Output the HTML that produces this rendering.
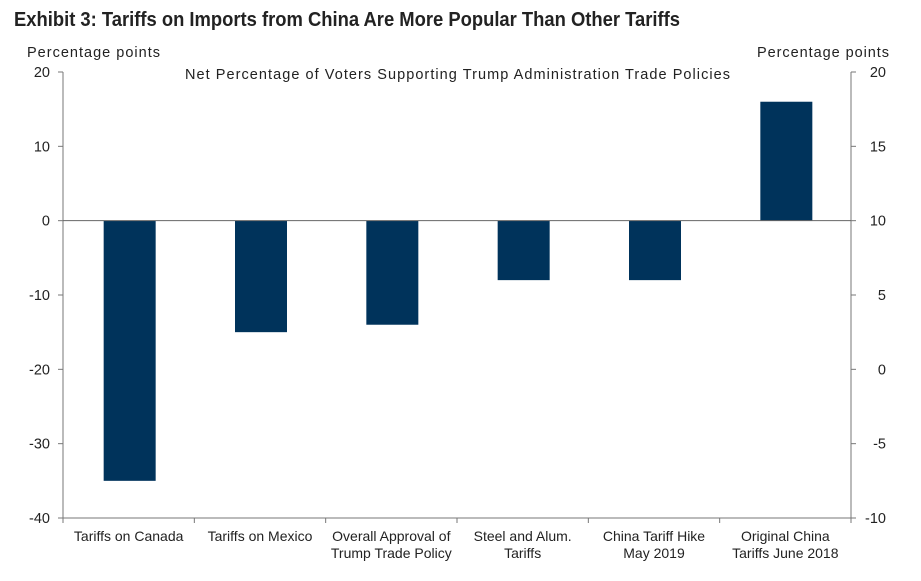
<!DOCTYPE html>
<html><head><meta charset="utf-8"><style>
body{margin:0;background:#fff;}
svg text{font-family:"Liberation Sans",Arial,sans-serif;fill:#222;}
</style></head><body>
<svg width="921" height="576" xmlns="http://www.w3.org/2000/svg">
<text x="14" y="26" style="font-family:'Liberation Sans Narrow','Liberation Sans',sans-serif;font-weight:bold;font-size:20px;fill:#222" textLength="666" lengthAdjust="spacingAndGlyphs">Exhibit 3: Tariffs on Imports from China Are More Popular Than Other Tariffs</text>
<text x="27" y="57" font-size="14.5" textLength="133" lengthAdjust="spacing">Percentage points</text>
<text x="757" y="57" font-size="14.5" textLength="132" lengthAdjust="spacing">Percentage points</text>
<text x="185" y="79" font-size="14.5" textLength="545" lengthAdjust="spacing">Net Percentage of Voters Supporting Trump Administration Trade Policies</text>
<g id="plot"></g>
</svg>
<script>
const categories=[["Tariffs on Canada"],["Tariffs on Mexico"],["Overall Approval of","Trump Trade Policy"],["Steel and Alum.","Tariffs"],["China Tariff Hike","May 2019"],["Original China","Tariffs June 2018"]];
const values=[-35,-15,-14,-8,-8,16];
const leftTicks=[20,10,0,-10,-20,-30,-40];
const rightTicks=[20,15,10,5,0,-5,-10];
const X0=63,X1=851,YT=72,YB=518;
const yL=v=>YT+(20-v)/60*(YB-YT);
const yR=v=>YT+(20-v)/30*(YB-YT);
const cw=(X1-X0)/categories.length;
const ns="http://www.w3.org/2000/svg";
const g=document.getElementById('plot');
function mk(t,a){const e=document.createElementNS(ns,t);for(const k in a)e.setAttribute(k,a[k]);g.appendChild(e);return e;}
const axc="#777";
let e;
e=mk('line',{x1:X0,y1:YT,x2:X0,y2:YB,stroke:axc});


e=mk('line',{x1:X1,y1:YT,x2:X1,y2:YB,stroke:axc});


e=mk('line',{x1:X0,y1:YB,x2:X1,y2:YB,stroke:axc});


leftTicks.forEach(v=>{const y=yL(v);
mk('line',{x1:X0-5,y1:y,x2:X0,y2:y,stroke:axc});
e=mk('text',{x:X0-13,y:y+5,'font-size':14.5,'text-anchor':'end'});e.textContent=v;

});
rightTicks.forEach(v=>{const y=yR(v);
mk('line',{x1:X1,y1:y,x2:X1+5,y2:y,stroke:axc});
e=mk('text',{x:X1+35,y:y+5,'font-size':14.5,'text-anchor':'end'});e.textContent=v;

});
for(let i=0;i<=categories.length;i++){const x=X0+i*cw;mk('line',{x1:x,y1:YB,x2:x,y2:YB+5,stroke:axc});}
values.forEach((v,i)=>{const cx=X0+1+cw*(i+0.5);const y0=yL(0),y1=yL(v);
e=mk('rect',{x:cx-26,y:Math.min(y0,y1),width:52,height:Math.abs(y1-y0),fill:'#00335b'});

});
e=mk('line',{x1:X0,y1:yL(0),x2:X1,y2:yL(0),stroke:'#666'});


categories.forEach((c,i)=>{const cx=X0+cw*(i+0.5);
c.forEach((l,j)=>{e=mk('text',{x:cx,y:541+j*17,'font-size':14,'text-anchor':'middle'});e.textContent=l;

});});
</script>
</body></html>
